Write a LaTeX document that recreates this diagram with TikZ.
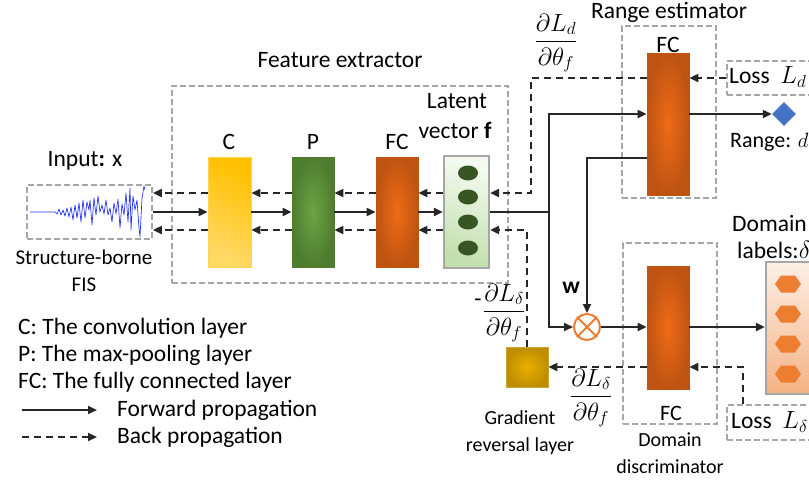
\documentclass[tikz,border=0pt]{standalone}
\usepackage{fontspec}
\setmainfont{Carlito}
\usepackage{amsmath}
\usetikzlibrary{arrows.meta,shapes.geometric,calc}

\definecolor{ink}{HTML}{262626}
\definecolor{frame}{HTML}{A6A6A6}
\definecolor{convA}{HTML}{FFC000}
\definecolor{convB}{HTML}{FFD966}
\definecolor{poolA}{HTML}{6CA443}
\definecolor{poolB}{HTML}{4F7D30}
\definecolor{fcA}{HTML}{EE6C17}
\definecolor{fcB}{HTML}{BF5412}
\definecolor{latA}{HTML}{F4FAF0}
\definecolor{latB}{HTML}{C2DFAE}
\definecolor{dotgreen}{HTML}{375623}
\definecolor{grlA}{HTML}{E8B000}
\definecolor{grlB}{HTML}{BE8E00}
\definecolor{lblA}{HTML}{FDF0E6}
\definecolor{lblB}{HTML}{F4B183}
\definecolor{hexor}{HTML}{ED7D31}
\definecolor{diablue}{HTML}{4472C4}
\definecolor{wave}{HTML}{1F2FFF}

\begin{document}
\begin{tikzpicture}[x=1pt,y=-1pt,
  font=\fontsize{23.5}{28}\selectfont,
  fwd/.style={draw=ink, line width=2pt, -{Triangle[length=9pt,width=8pt]}},
  bwd/.style={fwd, dash pattern=on 7pt off 5pt},
  group/.style={draw=frame, line width=1.8pt, dash pattern=on 6pt off 3pt, inner sep=0pt},
  block/.style={inner sep=0pt, line width=0.8pt},
  fclayer/.style={block, draw=fcB, inner color=fcA, outer color=fcB, minimum width=42pt},
  lbl/.style={inner sep=0pt},
  small/.style={lbl, font=\fontsize{20}{24}\selectfont},
  frac/.style={lbl, font=\fontsize{25}{30}\selectfont},
]
\useasboundingbox[fill=white] (0,0) rectangle (809,480);

% level lines of the feature extractor arrows
\coordinate (up) at (0,193);
\coordinate (dn) at (0,230);

% group frames
\node[group, minimum width=125pt, minimum height=54pt] (inbox) at (89.5,212) {};
\node[group, minimum width=336pt, minimum height=197pt] (fe) at (340,184.5) {};
\node[group, minimum width=94pt, minimum height=172pt] (re) at (669,112) {};
\node[group, minimum width=94pt, minimum height=181pt] (dd) at (670,333.5) {};

% input signal
\draw[wave, line width=0.65pt, line join=round] plot coordinates {
 (30,212) (53,212) (55,212) (57,214) (59,209) (61,215) (63,210) (65,216) (67,208)
 (69,217) (71,207) (73,220) (75,205) (77,218) (79,203) (81,222) (83,200) (85,218)
 (87,202) (89,210) (90,200) (92,225) (94,198) (96,215) (98,196) (100,212) (102,205)
 (104,214) (106,200) (108,215) (110,208) (112,222) (114,203) (116,214) (118,199)
 (120,228) (122,204) (124,215) (126,193) (128,222) (130,188) (131,230) (133,196)
 (135,210) (137,200) (139,228) (140,237) (142,198) (144,186) (145,190)};

% feature extractor layers
\node[block, draw=convB!80!convA, top color=convA, bottom color=convB, shading angle=-25,
      minimum width=43pt, minimum height=110pt] (C) at (229.5,212) {};
\node[block, draw=poolB, inner color=poolA, outer color=poolB,
      minimum width=42pt, minimum height=110pt] (P) at (313,212) {};
\node[fclayer, minimum height=110pt] (F1) at (397,212) {};
\node[block, draw=frame, line width=2.2pt, top color=latA, bottom color=latB, shading angle=-20,
      minimum width=45pt, minimum height=112pt] (lat) at (466.5,212) {};
\foreach \y in {173,197,222,248}
  \fill[dotgreen] (468,\y) ellipse (10pt and 7.5pt);

% range estimator and domain discriminator layers
\node[fclayer, minimum height=142pt] (rfc) at (668,124) {};
\node[fclayer, minimum height=123pt] (dfc) at (668,327.5) {};

% gradient reversal layer
\node[block, draw=grlB!80!white, inner color=grlA, outer color=grlB,
      minimum width=42pt, minimum height=40pt] (grl) at (527,367) {};

% multiplication node
\node[circle, draw=hexor, line width=2pt, fill=white, minimum size=26pt, inner sep=0pt] (ot) at (587,327) {};
\draw[hexor, line width=2pt] (ot.north west) -- (ot.south east) (ot.north east) -- (ot.south west);

% range output
\node[diamond, fill=diablue, minimum size=24pt, inner sep=0pt] (dia) at (784,114) {};

% loss boxes
\node[group, minimum width=85pt, minimum height=34pt] (lossd) at (769.5,78) {};
\node[group, minimum width=85pt, minimum height=35pt] (lossdl) at (769.5,422.5) {};
\node[lbl, anchor=west] (lossdt) at (729,77) {Loss\ \ $L_d$};
\node[lbl, anchor=west] (lossdlt) at (731,422) {Loss\ \ $L_\delta$};

% domain labels
\node[block, draw=frame, line width=2.2pt, top color=lblA, bottom color=lblB,
      minimum width=46pt, minimum height=132pt] (dl) at (789,328) {};
\foreach \y in {284,314,344,374}
  \fill[hexor] (775,\y) -- (781,\y-8.5) -- (795,\y-8.5) -- (801,\y) -- (795,\y+8.5) -- (781,\y+8.5) -- cycle;

% feature extractor connectors
\foreach \a/\b in {C/inbox, P/C, F1/P, lat/F1} {
  \draw[bwd] (\a.west |- up) -- (\b.east |- up);
  \draw[bwd] (\a.west |- dn) -- (\b.east |- dn);
}
\foreach \a/\b in {inbox/C, C/P, P/F1, F1/lat}
  \draw[fwd] (\a.east) -- (\b.west);

% forward split from the latent vector
\coordinate (split) at (549,212);
\coordinate (rin) at (0,114);
\coordinate (wy) at (0,158);
\draw[ink, line width=2pt] (lat.east) -- (split);
\draw[fwd] (split) |- (rfc.west |- rin);
\draw[fwd] (split) |- (ot.west);
\draw[fwd] (rfc.west |- wy) -| (ot.north);
\draw[fwd] (rfc.east |- rin) -- (dia.west);
\draw[fwd] (ot.east) -- (dfc.west |- ot.east);
\draw[fwd] (dfc.east |- ot.east) -- (dl.west |- ot.east);

% back propagation from the range estimator
\coordinate (bk) at (531,78);
\draw[bwd] (rfc.west |- bk) -- (bk) |- (lat.east |- up);
\draw[bwd] (lossd.west) -- (rfc.east |- lossd.west);

% back propagation from the domain discriminator
\coordinate (ld) at (743,367);
\draw[bwd] (ld |- lossdl.north) -- (ld) -- (dfc.east |- ld);
\draw[bwd] (dfc.west |- ld) -- (grl.east);
\draw[bwd] (grl.north) |- (lat.east |- dn);

% texts
\node[lbl] (tin) at (85,161) {Input\textbf{:} x};
\node[lbl, font=\fontsize{21}{25}\selectfont] (tsb) at (84,257) {Structure-borne};
\node[lbl, font=\fontsize{21}{25}\selectfont] (tfis) at (84,285) {FIS};
\node[lbl] (tfe) at (340,60) {Feature extractor};
\node[lbl] (tc) at (229,142) {C};
\node[lbl] (tp) at (313,142) {P};
\node[lbl] (tfc) at (397,142) {FC};
\node[lbl] (tlat1) at (457,101) {Latent};
\node[lbl] (tlat2) at (455,130) {vector \textbf{f}};
\node[lbl] (tre) at (669,12) {Range estimator};
\node[lbl] (trfc) at (668,45) {FC};
\node[lbl, font=\fontsize{22}{26}\selectfont] (tdfc) at (671,413) {FC};
\node[small] (tdd1) at (670,440) {Domain};
\node[small] (tdd2) at (670,467) {discriminator};
\node[small] (tgrl1) at (520,418) {Gradient};
\node[small] (tgrl2) at (520,446) {reversal layer};
\node[lbl] (tw) at (571,288) {\textbf{w}};
\node[lbl, anchor=west, font=\fontsize{22}{26}\selectfont] (trange) at (730,142) {Range: $d$};
\node[lbl, anchor=west] (tdl1) at (732,223) {Domain};
\node[lbl, anchor=west] (tdl2) at (737,250) {labels:$\delta$};

% gradient labels
\node[frac] (gd) at (556,43) {$\dfrac{\partial L_d}{\partial \theta_f}$};
\node[frac] (gdl) at (591,398) {$\dfrac{\partial L_\delta}{\partial \theta_f}$};
\node[frac] (gneg) at (504,313) {$\dfrac{\partial L_\delta}{\partial \theta_f}$};
\node[lbl] (gnegsign) at (478,303) {-};

% legend
\node[lbl, anchor=west] (k1) at (18,328) {C: The convolution layer};
\node[lbl, anchor=west] (k2) at (18,355) {P: The max-pooling layer};
\node[lbl, anchor=west] (k3) at (18,382) {FC: The fully connected layer};
\coordinate (kf) at (22,410);
\coordinate (kb) at (22,437);
\node[lbl, anchor=west] (k4) at (117,410) {Forward propagation};
\node[lbl, anchor=west] (k5) at (117,437) {Back propagation};
\draw[fwd] (kf) -- ++(75,0);
\draw[bwd] (kb) -- ++(75,0);
\end{tikzpicture}
\end{document}
